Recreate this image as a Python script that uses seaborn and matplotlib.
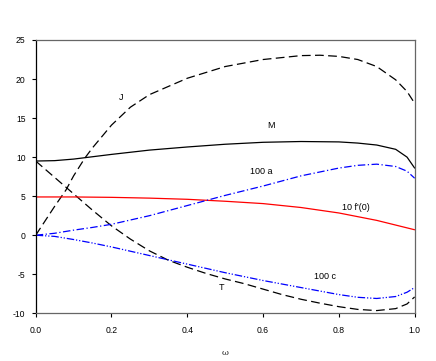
import numpy as np
import pandas as pd
import matplotlib
matplotlib.use("Agg")
import matplotlib.pyplot as plt
import seaborn as sns

# --- data ---
w_M = [0, 0.05, 0.1, 0.15, 0.2, 0.3, 0.4, 0.5, 0.6, 0.7, 0.8, 0.85, 0.9, 0.95, 0.98, 1.0]
M = [9.5, 9.55, 9.75, 10.05, 10.35, 10.9, 11.3, 11.65, 11.9, 12.0, 11.95, 11.8, 11.55, 11.0, 10.0, 8.6]

w_J = [0, 0.05, 0.08, 0.1, 0.13, 0.15, 0.2, 0.25, 0.3, 0.4, 0.5, 0.6, 0.7, 0.75, 0.8, 0.85, 0.9, 0.95, 0.98, 1.0]
J = [0, 3.7, 5.8, 7.6, 9.9, 11.2, 14.1, 16.4, 18.0, 20.1, 21.6, 22.5, 23.0, 23.05, 22.9, 22.5, 21.6, 19.9, 18.4, 16.9]

w_T = [0, 0.05, 0.1, 0.15, 0.2, 0.25, 0.3, 0.35, 0.4, 0.45, 0.5, 0.55, 0.6, 0.65, 0.7, 0.75, 0.8, 0.85, 0.9, 0.95, 0.98, 1.0]
T = [9.5, 7.4, 5.3, 3.2, 1.2, -0.5, -2.0, -3.2, -4.1, -4.9, -5.6, -6.2, -6.9, -7.6, -8.2, -8.7, -9.15, -9.5, -9.65, -9.4, -8.8, -7.9]

w_f = [0, 0.1, 0.2, 0.3, 0.4, 0.5, 0.6, 0.7, 0.8, 0.9, 1.0]
F = [4.9, 4.9, 4.85, 4.75, 4.6, 4.35, 4.05, 3.55, 2.85, 1.9, 0.7]

w_a = [0, 0.05, 0.1, 0.15, 0.2, 0.3, 0.4, 0.5, 0.6, 0.7, 0.8, 0.85, 0.9, 0.95, 0.98, 1.0]
A = [0, 0.25, 0.65, 1.0, 1.4, 2.5, 3.8, 5.1, 6.3, 7.6, 8.6, 8.95, 9.1, 8.8, 8.2, 7.3]

w_c = [0, 0.05, 0.1, 0.15, 0.2, 0.3, 0.4, 0.5, 0.6, 0.7, 0.8, 0.85, 0.9, 0.95, 0.98, 1.0]
C = [0, -0.15, -0.55, -1.0, -1.5, -2.6, -3.7, -4.8, -5.8, -6.7, -7.6, -7.95, -8.1, -7.85, -7.3, -6.7]

labels = ["J", "M", "100 a", "10 f'(0)", "100 c", "T"]
label_pos = [(0.225, 17.7), (0.62, 14.1), (0.595, 8.1), (0.845, 3.5), (0.764, -5.3), (0.49, -6.75)]

xticks = [0.0, 0.2, 0.4, 0.6, 0.8, 1.0]
yticks = [-10, -5, 0, 5, 10, 15, 20, 25]

sns.set_style("ticks")
plt.rcParams['font.family'] = ['Liberation Sans', 'DejaVu Sans']

fig = plt.figure(figsize=(4.36, 3.61), dpi=100)
ax = fig.add_axes([0.0819, 0.1321, 0.951 - 0.0819, 0.8892 - 0.1321])

lw = 0.9
sns.lineplot(x=w_M, y=M, ax=ax, color="black", lw=lw, estimator=None, sort=False)
l = sns.lineplot(x=w_J, y=J, ax=ax, color="black", lw=lw, estimator=None, sort=False).lines[-1]
l.set_dashes([7, 3.5])
l = sns.lineplot(x=w_T, y=T, ax=ax, color="black", lw=lw, estimator=None, sort=False).lines[-1]
l.set_dashes([7, 3.5])
sns.lineplot(x=w_f, y=F, ax=ax, color="red", lw=lw, estimator=None, sort=False)
l = sns.lineplot(x=w_a, y=A, ax=ax, color="blue", lw=lw, estimator=None, sort=False).lines[-1]
l.set_dashes([6, 2, 1, 2])
l = sns.lineplot(x=w_c, y=C, ax=ax, color="blue", lw=lw, estimator=None, sort=False).lines[-1]
l.set_dashes([6, 1.5, 1, 1.5, 1, 1.5])

for t, (x, y) in zip(labels, label_pos):
    ax.text(x, y, t, fontsize=6.5, ha="center", va="center", color="black")

ax.set_xlim(0, 1)
ax.set_ylim(-10, 25)
ax.set_xticks(xticks)
ax.set_xticklabels([f"{v:.1f}" for v in xticks])
ax.set_yticks(yticks)
ax.set_yticklabels([str(v) for v in yticks])
ax.tick_params(axis="both", labelsize=6.2, length=2.8, width=0.8, direction="out", colors="black")
ax.tick_params(axis="x", pad=6.5)
ax.tick_params(axis="y", pad=4.5)
ax.tick_params(top=False, right=False)
ax.spines["left"].set_color("black")
ax.spines["left"].set_linewidth(0.9)
for s in ["top", "right", "bottom"]:
    ax.spines[s].set_visible(True)
    ax.spines[s].set_color("#666666")
    ax.spines[s].set_linewidth(0.9)
ax.set_xlabel("ω", fontsize=6, family=["DejaVu Serif"], labelpad=10)
ax.set_ylabel("")

fig.savefig("out.png", dpi=100)
